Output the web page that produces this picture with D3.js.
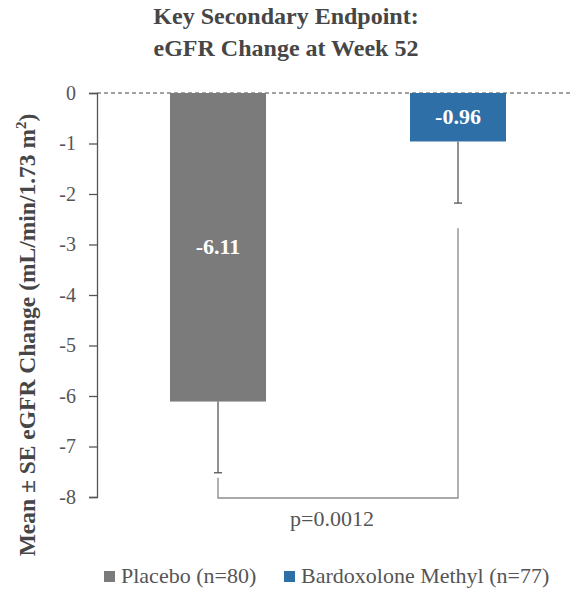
<!DOCTYPE html>
<html>
<head>
<meta charset="utf-8">
<script src="https://cdn.jsdelivr.net/npm/d3@7"></script>
<style>
  html, body { margin: 0; padding: 0; background: #fff; }
  svg { display: block; }
</style>
</head>
<body>
<svg id="chart" width="576" height="592"></svg>
<script>
// Mean change in eGFR at week 52, by treatment arm
const groups = ["Placebo (n=80)", "Bardoxolone Methyl (n=77)"];
const means = [-6.11, -0.96];
const standardErrors = [1.41, 1.22];
const barColors = ["#7b7b7b", "#2e6fa8"];
const yTicks = [0, -1, -2, -3, -4, -5, -6, -7, -8];
const pValueLabel = "p=0.0012";
const titleLines = ["Key Secondary Endpoint:", "eGFR Change at Week 52"];

const SERIF = '"Liberation Serif", serif';

const svg = d3.select("#chart");

const x = d3.scaleBand()
  .domain(groups)
  .range([98, 578])
  .paddingInner(0.6)
  .paddingOuter(0.3);

const y = d3.scaleLinear()
  .domain([-8, 0])
  .range([497, 93]);

// Title
svg.append("g")
  .selectAll("text")
  .data(titleLines)
  .join("text")
  .attr("x", 286)
  .attr("y", (d, i) => 24 + i * 32)
  .attr("text-anchor", "middle")
  .style("font-family", SERIF)
  .style("font-size", "24px")
  .style("font-weight", "bold")
  .attr("fill", "#464646")
  .text(d => d);

// Zero reference line
svg.append("line")
  .attr("x1", 97).attr("x2", 572)
  .attr("y1", y(0)).attr("y2", y(0))
  .attr("stroke", "#444")
  .attr("stroke-width", 1)
  .attr("stroke-dasharray", "4,3");

// Bars
svg.append("g")
  .selectAll("rect")
  .data(means)
  .join("rect")
  .attr("x", (d, i) => x(groups[i]))
  .attr("width", x.bandwidth())
  .attr("y", y(0))
  .attr("height", d => y(d) - y(0))
  .attr("fill", (d, i) => barColors[i]);

// Error bars (downward only)
const err = svg.append("g").attr("stroke", "#555").attr("stroke-width", 1.3);
means.forEach((m, i) => {
  const cx = x(groups[i]) + x.bandwidth() / 2;
  const lo = m - standardErrors[i];
  err.append("line")
    .attr("x1", cx).attr("x2", cx)
    .attr("y1", y(m)).attr("y2", y(lo));
  err.append("line")
    .attr("x1", cx - 4).attr("x2", cx + 4)
    .attr("y1", y(lo)).attr("y2", y(lo));
});

// Value labels inside bars
svg.append("g")
  .selectAll("text")
  .data(means)
  .join("text")
  .attr("x", (d, i) => x(groups[i]) + x.bandwidth() / 2)
  .attr("y", d => (y(0) + y(d)) / 2 + 7)
  .attr("text-anchor", "middle")
  .style("font-family", SERIF)
  .style("font-size", "22px")
  .style("font-weight", "bold")
  .attr("fill", "#fff")
  .text(d => d.toFixed(2));

// Significance bracket between the two arms
const cx0 = x(groups[0]) + x.bandwidth() / 2;
const cx1 = x(groups[1]) + x.bandwidth() / 2;
const leftTop = means[0] - standardErrors[0] - 0.1;
const rightTop = means[1] - standardErrors[1] - 0.5;
const bracketBase = -8.02;
svg.append("path")
  .attr("d", d3.line()([
    [cx0, y(leftTop)], [cx0, y(bracketBase)],
    [cx1, y(bracketBase)], [cx1, y(rightTop)]
  ]))
  .attr("fill", "none")
  .attr("stroke", "#8f8f8f")
  .attr("stroke-width", 1.4);

svg.append("text")
  .attr("x", (cx0 + cx1) / 2 - 6)
  .attr("y", 526)
  .attr("text-anchor", "middle")
  .style("font-family", SERIF)
  .style("font-size", "22px")
  .attr("fill", "#555")
  .text(pValueLabel);

// Y axis
const yAxis = svg.append("g")
  .attr("transform", "translate(97,0)")
  .call(d3.axisLeft(y).tickValues(yTicks).tickSize(8).tickPadding(13).tickFormat(d => String(d)));
yAxis.select(".domain").attr("stroke", "#555").attr("stroke-width", 1.3);
yAxis.selectAll(".tick line").attr("stroke", "#555").attr("stroke-width", 1.3);
yAxis.selectAll(".tick text")
  .style("font-family", SERIF)
  .style("font-size", "20px")
  .attr("fill", "#555");

// Y axis title
const yTitle = svg.append("text")
  .attr("transform", "translate(35,335) rotate(-90)")
  .attr("text-anchor", "middle")
  .style("font-family", SERIF)
  .style("font-size", "23.5px")
  .style("font-weight", "bold")
  .attr("fill", "#464646");
yTitle.append("tspan").text("Mean ± SE eGFR Change (mL/min/1.73 m");
yTitle.append("tspan").attr("dy", -9).style("font-size", "15px").text("2");
yTitle.append("tspan").attr("dy", 9).text(")");

// Legend
const legendX = [104, 284];
const legend = svg.append("g")
  .selectAll("g")
  .data(groups)
  .join("g")
  .attr("transform", (d, i) => `translate(${legendX[i]},0)`);
legend.append("rect")
  .attr("x", 0).attr("y", 571)
  .attr("width", 11).attr("height", 11)
  .attr("fill", (d, i) => barColors[i]);
legend.append("text")
  .attr("x", 17).attr("y", 583)
  .style("font-family", SERIF)
  .style("font-size", "22px")
  .attr("fill", "#555")
  .text(d => d);
</script>
</body>
</html>
